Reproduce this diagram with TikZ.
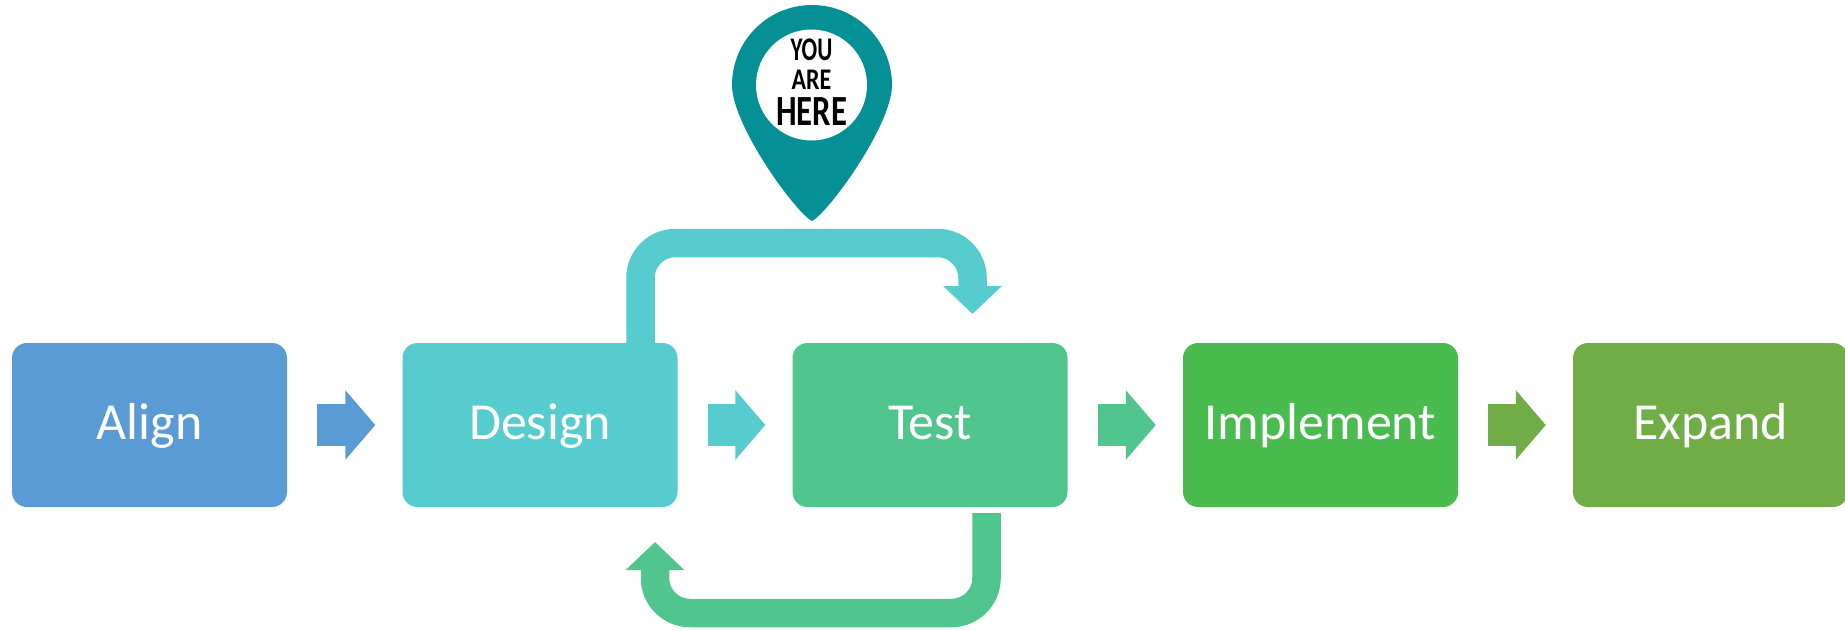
\documentclass[tikz,border=0pt]{standalone}
\usepackage{fontspec}
\setmainfont{Carlito}
\usetikzlibrary{arrows.meta}
\definecolor{alignblue}{HTML}{5B9BD5}
\definecolor{designteal}{HTML}{56CCCF}
\definecolor{testgreen}{HTML}{50C68E}
\definecolor{implgreen}{HTML}{4ABB4F}
\definecolor{expandgreen}{HTML}{70AD47}
\definecolor{pinteal}{HTML}{049095}
\tikzset{
  phase/.style={rounded corners=15pt,minimum width=275pt,minimum height=164pt,inner sep=0pt,
    text=white,text height=36pt,text depth=8pt,font=\fontsize{52}{60}\selectfont},
  steparrow/.style={line width=42pt,-{Triangle[length=30pt,width=68pt]}},
  looparrow/.style={line width=28.5pt,rounded corners=35pt,-{Triangle[length=28pt,width=57pt]}},
  pinword/.style={inner sep=0pt,text=black}
}
\begin{document}
\begin{tikzpicture}[x=1pt,y=-1pt]
  \path[use as bounding box,clip] (0,0) rectangle (1845,630);
  \node[phase,fill=alignblue] (align) at (149.5,425) {Align};
  \node[phase,fill=designteal] (design) at (540,425) {Design};
  \node[phase,fill=testgreen] (test) at (930,425) {Test};
  \node[phase,fill=implgreen] (implement) at (1320.5,425) {Implement};
  \node[phase,fill=expandgreen] (expand) at (1710.5,425) {Expand};
  % block arrows between the phases
  \foreach \a/\b/\c in {align/design/alignblue,design/test/designteal,test/implement/testgreen,implement/expand/expandgreen}{
    \draw[steparrow,\c] ([xshift=30pt]\a.east) -- ([xshift=-27pt]\b.west);}
  % the two loops
  \coordinate (looptop) at (972.5,314);
  \coordinate (loopbottom) at (655,542);
  \draw[looparrow,designteal] ([xshift=100.5pt]design.north) -- (640.5,243) -- (972.5,243) -- (looptop);
  \draw[looparrow,testgreen] (986.5,513) -- (986.5,613) -- (655,613) -- (loopbottom);
  % the pin
  \fill[pinteal] (812,221) .. controls (795,212) and (732,125) .. (732,85)
    arc[start angle=180,end angle=360,radius=80] .. controls (892,125) and (829,212) .. (812,221) -- cycle;
  \node[circle,fill=white,minimum size=111pt,inner sep=0pt] (pinhole) at (811.5,85) {};
  \node[pinword,xscale=0.7,font=\bfseries\fontsize{33}{33}\selectfont] (you) at (811.5,50) {YOU};
  \node[pinword,xscale=0.8,font=\bfseries\fontsize{30}{30}\selectfont] (are) at (811.5,80) {ARE};
  \node[pinword,xscale=0.76,font=\bfseries\fontsize{43}{43}\selectfont] (here) at (811.5,112) {HERE};
\end{tikzpicture}
\end{document}
